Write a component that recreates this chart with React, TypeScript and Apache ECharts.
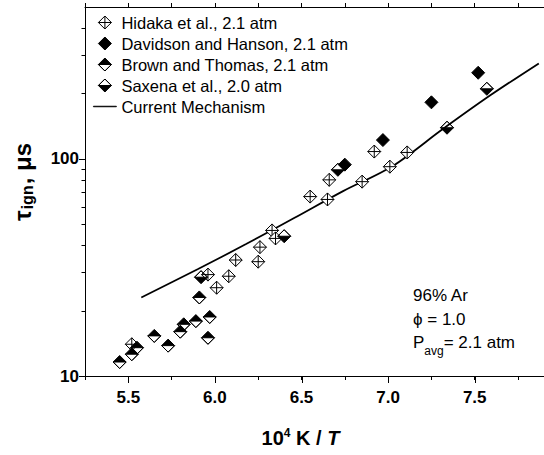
import { useEffect, useRef } from "react";
import * as echarts from "echarts";

const FONT = 'Arial, "Liberation Sans", Helvetica, sans-serif';

// axis ranges and ticks
const X_MIN = 5.25;
const X_MAX = 7.9;
const X_STEP = 0.25;
const Y_MIN = 10;
const Y_MAX = 500;
const xMajorTicks = [5.5, 6.0, 6.5, 7.0, 7.5];
const yMinorTicks = [20, 30, 40, 50, 60, 70, 80, 90, 200, 300, 400];

// Hidaka et al., 2.1 atm
const hidakaX = [5.52, 5.96, 6.01, 6.08, 6.12, 6.25, 6.26, 6.33, 6.35, 6.55, 6.65, 6.66, 6.85, 6.92, 7.01, 7.11];
const hidakaY = [14.0, 29.3, 25.5, 28.8, 34.2, 33.6, 39.2, 46.8, 43.0, 67, 65, 80, 78.5, 108, 92, 107];
// Davidson and Hanson, 2.1 atm
const davidsonX = [6.75, 6.97, 7.25, 7.52];
const davidsonY = [94, 122, 182, 249];
// Brown and Thomas, 2.1 atm
const brownX = [5.45, 5.52, 5.55, 5.65, 5.73, 5.8, 5.82, 5.89, 5.97, 5.96, 5.91];
const brownY = [11.6, 12.6, 13.5, 15.3, 13.8, 16.0, 17.3, 17.9, 18.7, 15.0, 23.0];
// Saxena et al., 2.0 atm
const saxenaX = [5.92, 6.4, 6.71, 7.34, 7.57];
const saxenaY = [28.5, 44, 89, 139, 210];
// Current Mechanism
const mechX = [5.575, 5.9, 6.18, 6.46, 6.74, 7.03, 7.31, 7.59, 7.87];
const mechY = [23, 31, 40.5, 53.5, 71, 93, 136, 196, 275];

const names = [
  "Hidaka et al., 2.1 atm",
  "Davidson and Hanson, 2.1 atm",
  "Brown and Thomas, 2.1 atm",
  "Saxena et al., 2.0 atm",
  "Current Mechanism",
];

const SYM_HIDAKA = "path://M5 0L10 5L5 10L0 5Z M5 0L5 10 M0 5L10 5";
const SYM_DAVIDSON = "path://M5 0L10 5L5 10L0 5Z";
const SYM_BROWN = "path://M0 5L5 0L10 5Z M0 5L5 10L10 5L5 10Z";
const SYM_SAXENA = "path://M0 5L5 0L10 5L5 0Z M0 5L5 10L10 5Z";
const ICON_LINE = "path://M0 0H40V1H0Z";

const pairs = (xs: number[], ys: number[]) => xs.map((x, i) => [x, ys[i]]);

const scatter = (name: string, xs: number[], ys: number[], symbol: string, fill: string) => ({
  type: "scatter",
  name,
  data: pairs(xs, ys),
  symbol,
  symbolSize: 13,
  symbolKeepAspect: true,
  itemStyle: { color: fill, borderColor: "#000", borderWidth: 1, opacity: 1 },
  emphasis: { disabled: true },
  z: 4,
});

export default function App() {
  const ref = useRef<HTMLDivElement>(null);
  useEffect(() => {
    if (!ref.current) return;
    const chart = echarts.init(ref.current, null, { renderer: "svg" });
    const isPow10 = (v: number) => Math.abs(Math.log10(v) - Math.round(Math.log10(v))) < 1e-6;
    const option: any = {
      animation: false,
      backgroundColor: "#fff",
      grid: { left: 85, top: 7, right: -11, bottom: 79 },
      xAxis: [
        {
          type: "value",
          position: "bottom",
          min: X_MIN,
          max: X_MAX,
          interval: X_STEP,
          axisLine: { onZero: false, lineStyle: { color: "#000", width: 1 } },
          axisTick: { length: 4, lineStyle: { color: "#000" } },
          splitLine: { show: false },
          axisLabel: {
            formatter: (v: number) => {
              const r = Math.round(v * 2);
              return Math.abs(v * 2 - r) < 1e-6 && v > 5.3 && v < 7.8 ? v.toFixed(1) : "";
            },
            fontSize: 17,
            fontWeight: "bold",
            color: "#000",
            fontFamily: FONT,
            margin: 13,
            showMaxLabel: false,
          },
          name: "{b|10}{sup|4}{b| K / }{it|T}",
          nameLocation: "middle",
          nameGap: 51,
          nameTextStyle: {
            padding: [0, 28, 0, 0],
            rich: {
              b: { fontSize: 20, fontWeight: "bold", fontFamily: FONT, color: "#000", lineHeight: 22 },
              sup: { fontSize: 12, fontWeight: "bold", fontFamily: FONT, color: "#000", lineHeight: 12, verticalAlign: "top" },
              it: { fontSize: 20, fontWeight: "bold", fontStyle: "italic", fontFamily: FONT, color: "#000", lineHeight: 22 },
            },
          },
        },
        {
          type: "value",
          position: "top",
          min: X_MIN,
          max: X_MAX,
          interval: X_STEP,
          axisLine: { onZero: false, lineStyle: { color: "#000", width: 1 } },
          axisTick: { length: 4, lineStyle: { color: "#000" } },
          splitLine: { show: false },
          axisLabel: { show: false },
        },
      ],
      yAxis: {
        type: "log",
        logBase: 10,
        min: Y_MIN,
        max: Y_MAX,
        axisLine: { onZero: false, lineStyle: { color: "#000", width: 1 } },
        axisTick: { length: 6, lineStyle: { color: "#000" } },
        splitLine: { show: false },
        axisLabel: {
          formatter: (v: number) => (isPow10(v) ? String(Math.round(v)) : ""),
          fontSize: 17,
          fontWeight: "bold",
          color: "#000",
          fontFamily: FONT,
          margin: 6,
          showMaxLabel: false,
        },
      },
      legend: {
        orient: "vertical",
        left: 88,
        top: 9,
        itemWidth: 23,
        itemHeight: 13,
        itemGap: 4,
        selectedMode: false,
        textStyle: { fontSize: 16.5, fontFamily: FONT, color: "#000", lineHeight: 16.5 },
        itemStyle: { borderWidth: 1, borderColor: "#000" },
        data: [
          { name: names[0], icon: SYM_HIDAKA },
          { name: names[1], icon: SYM_DAVIDSON },
          { name: names[2], icon: SYM_BROWN },
          { name: names[3], icon: SYM_SAXENA },
          { name: names[4], icon: ICON_LINE, itemStyle: { color: "#000", borderColor: "#000", borderWidth: 0.8 } },
        ],
      },
      graphic: [
        {
          type: "text",
          x: 22,
          y: 182,
          rotation: Math.PI / 2,
          style: {
            text: "{t|τ}{sub|ign}{t|, μs}",
            align: "center",
            verticalAlign: "middle",
            rich: {
              t: { fontSize: 24, fontWeight: "bold", fontFamily: FONT, fill: "#000", lineHeight: 26 },
              sub: {
                fontSize: 16,
                fontWeight: "bold",
                fontFamily: FONT,
                fill: "#000",
                lineHeight: 16,
                verticalAlign: "bottom",
                padding: [0, 1, 0, 1],
              },
            },
          },
        },
        {
          type: "text",
          x: 413,
          y: 295,
          style: { text: "96% Ar", font: `17px ${FONT}`, fill: "#000", verticalAlign: "middle", align: "left" },
        },
        {
          type: "text",
          x: 413,
          y: 319,
          style: { text: "ϕ = 1.0", font: `17px ${FONT}`, fill: "#000", verticalAlign: "middle", align: "left" },
        },
        {
          type: "text",
          x: 413,
          y: 342,
          style: {
            text: "{p|P}{s|avg}{p|= 2.1 atm}",
            verticalAlign: "middle",
            align: "left",
            rich: {
              p: { fontSize: 17, fontFamily: FONT, fill: "#000", lineHeight: 22 },
              s: { fontSize: 12, fontFamily: FONT, fill: "#000", lineHeight: 12, verticalAlign: "bottom", padding: [0, 0, -4, 0] },
            },
          },
        },
      ],
      series: [
        {
          type: "line",
          name: names[4],
          data: pairs(mechX, mechY),
          symbol: "none",
          showSymbol: false,
          smooth: 0.3,
          lineStyle: { color: "#000", width: 1.8 },
          itemStyle: { color: "#000" },
          emphasis: { disabled: true },
          z: 3,
        },
        scatter(names[0], hidakaX, hidakaY, SYM_HIDAKA, "#fff"),
        scatter(names[1], davidsonX, davidsonY, SYM_DAVIDSON, "#000"),
        scatter(names[2], brownX, brownY, SYM_BROWN, "#000"),
        scatter(names[3], saxenaX, saxenaY, SYM_SAXENA, "#000"),
        {
          type: "custom",
          name: "yMinorTicks",
          silent: true,
          clip: false,
          data: yMinorTicks.map((v) => [X_MIN, v]),
          renderItem: (_p: any, api: any) => {
            const pt = api.coord([api.value(0), api.value(1)]);
            const x = Math.round(pt[0]);
            const y = Math.round(pt[1]) + 0.5;
            return { type: "line", shape: { x1: x - 3.5, y1: y, x2: x, y2: y }, style: { stroke: "#000", lineWidth: 1 } };
          },
          z: 5,
        },
        {
          type: "custom",
          name: "xMajorTicks",
          silent: true,
          clip: false,
          data: xMajorTicks.map((v) => [v, Y_MIN]),
          renderItem: (_p: any, api: any) => {
            const pt = api.coord([api.value(0), api.value(1)]);
            const x = Math.round(pt[0]) + 0.5;
            const y = Math.round(pt[1]);
            return { type: "line", shape: { x1: x, y1: y, x2: x, y2: y + 7 }, style: { stroke: "#000", lineWidth: 1 } };
          },
          z: 5,
        },
      ],
    };
    chart.setOption(option);
    return () => chart.dispose();
  }, []);
  return (
    <div
      ref={ref}
      style={{ position: "absolute", left: 0, top: 0, width: 544, height: 455, overflow: "hidden" }}
    />
  );
}
